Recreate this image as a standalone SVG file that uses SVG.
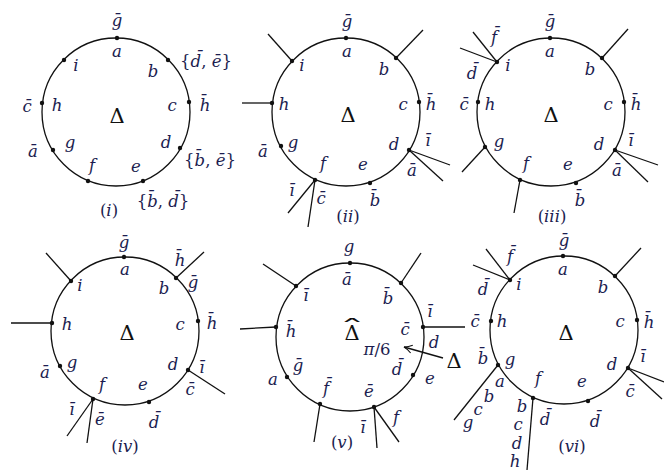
<svg xmlns="http://www.w3.org/2000/svg" width="664" height="470" viewBox="0 0 664 470">
<defs>
<style>
.ring{fill:none;stroke:#111;stroke-width:1.3}
.e{stroke:#111;stroke-width:1.3;fill:none}
.n{fill:#111}
text{font-family:"DejaVu Serif","Liberation Serif",serif;font-style:italic;font-size:16.5px;fill:#1c1d50;text-anchor:middle}
.up{font-style:normal}
.D{font-style:normal;font-size:21px;fill:#111}
</style>
<marker id="ah" markerWidth="12" markerHeight="10" refX="10" refY="5" orient="auto" markerUnits="userSpaceOnUse">
<path d="M2,1 Q6,4 10,5 Q6,6 2,9" fill="none" stroke="#111" stroke-width="1.1"/>
</marker>
</defs>
<rect width="664" height="470" fill="#fff"/>

<!-- Panel (i) -->
<g id="panel-i">
<circle class="ring" cx="116" cy="112" r="74"/>
<g id="i-nodes" class="n">
<circle cx="117" cy="38" r="2.2"/><circle cx="168" cy="60" r="2.2"/><circle cx="189" cy="102" r="2.2"/>
<circle cx="180" cy="148" r="2.2"/><circle cx="143" cy="181" r="2.2"/><circle cx="88" cy="181" r="2.2"/>
<circle cx="53" cy="150" r="2.2"/><circle cx="42" cy="103" r="2.2"/><circle cx="64" cy="60" r="2.2"/>
</g>
<g id="i-labels">
<text x="117" y="26">ḡ</text><text x="117" y="57">a</text>
<text x="206" y="67"><tspan class="up">{</tspan>d̄<tspan class="up">, </tspan>ē<tspan class="up">}</tspan></text>
<text x="153" y="77">b</text><text x="76" y="71">i</text>
<text x="27" y="112">c̄</text><text x="57" y="111">h</text><text x="172" y="111">c</text><text x="205" y="111">h̄</text>
<text class="D" x="117" y="123">Δ</text>
<text x="166" y="148">d</text>
<text x="210" y="166"><tspan class="up">{</tspan>b̄<tspan class="up">, </tspan>ē<tspan class="up">}</tspan></text>
<text x="33" y="157">ā</text><text x="70" y="148">g</text><text x="92" y="171">f</text><text x="136" y="172">e</text>
<text x="163" y="207"><tspan class="up">{</tspan>b̄<tspan class="up">, </tspan>d̄<tspan class="up">}</tspan></text>
<text x="109" y="216"><tspan class="up">(</tspan>i<tspan class="up">)</tspan></text>
</g>
</g>

<!-- Panel (ii) -->
<g id="panel-ii">
<circle class="ring" cx="346" cy="112" r="74"/>
<g id="ii-connectors" class="e">
<line x1="292" y1="61" x2="268" y2="34"/><line x1="396" y1="58" x2="423" y2="30"/>
<line x1="272" y1="103" x2="242" y2="103"/>
<line x1="409" y1="150" x2="450" y2="165"/><line x1="409" y1="150" x2="443" y2="181"/>
<line x1="315" y1="180" x2="288" y2="213"/><line x1="315" y1="180" x2="308" y2="227"/>
</g>
<g id="ii-nodes" class="n">
<circle cx="346" cy="38" r="2.2"/><circle cx="396" cy="58" r="2.2"/><circle cx="419" cy="102" r="2.2"/>
<circle cx="409" cy="150" r="2.2"/><circle cx="370" cy="183" r="2.2"/><circle cx="315" cy="180" r="2.2"/>
<circle cx="281" cy="146" r="2.2"/><circle cx="272" cy="103" r="2.2"/><circle cx="292" cy="61" r="2.2"/>
</g>
<g id="ii-labels">
<text x="347" y="27">ḡ</text><text x="347" y="57">a</text><text x="302" y="71">i</text><text x="384" y="75">b</text>
<text x="284" y="110">h</text><text x="403" y="110">c</text><text x="431" y="110">h̄</text>
<text class="D" x="348" y="122">Δ</text>
<text x="428" y="146">ī</text><text x="394" y="150">d</text><text x="412" y="176">ā</text>
<text x="263" y="157">ā</text><text x="293" y="148">g</text><text x="323" y="169">f</text><text x="363" y="170">e</text>
<text x="292" y="196">ī</text><text x="321" y="204">c̄</text><text x="375" y="206">b̄</text>
<text x="348" y="222"><tspan class="up">(</tspan>ii<tspan class="up">)</tspan></text>
</g>
</g>

<!-- Panel (iii) -->
<g id="panel-iii">
<circle class="ring" cx="551" cy="112" r="74"/>
<g id="iii-connectors" class="e">
<line x1="497" y1="62" x2="473" y2="32"/><line x1="497" y1="62" x2="460" y2="48"/>
<line x1="602" y1="58" x2="628" y2="29"/>
<line x1="485" y1="147" x2="462" y2="172"/>
<line x1="615" y1="150" x2="658" y2="165"/><line x1="615" y1="150" x2="648" y2="182"/>
<line x1="520" y1="180" x2="514" y2="213"/>
</g>
<g id="iii-nodes" class="n">
<circle cx="550" cy="38" r="2.2"/><circle cx="602" cy="58" r="2.2"/><circle cx="624" cy="102" r="2.2"/>
<circle cx="615" cy="150" r="2.2"/><circle cx="576" cy="183" r="2.2"/><circle cx="520" cy="180" r="2.2"/>
<circle cx="485" cy="147" r="2.2"/><circle cx="478" cy="102" r="2.2"/><circle cx="497" cy="62" r="2.2"/>
</g>
<g id="iii-labels">
<text x="550" y="27">ḡ</text><text x="550" y="57">a</text><text x="494" y="43">f̄</text><text x="472" y="79">d̄</text>
<text x="508" y="71">i</text><text x="590" y="75">b</text>
<text x="464" y="110">c̄</text><text x="490" y="110">h</text><text x="608" y="110">c</text><text x="636" y="110">h̄</text>
<text class="D" x="551" y="122">Δ</text>
<text x="499" y="147">g</text><text x="599" y="150">d</text><text x="631" y="146">ī</text><text x="617" y="176">ā</text>
<text x="526" y="169">f</text><text x="568" y="170">e</text><text x="580" y="206">b̄</text>
<text x="552" y="222"><tspan class="up">(</tspan>iii<tspan class="up">)</tspan></text>
</g>
</g>

<!-- Panel (iv) -->
<g id="panel-iv">
<circle class="ring" cx="125" cy="331" r="74"/>
<g id="iv-connectors" class="e">
<line x1="71" y1="281" x2="46" y2="253"/><line x1="176" y1="278" x2="204" y2="252"/>
<line x1="52" y1="323" x2="11" y2="323"/>
<line x1="188" y1="370" x2="225" y2="394"/>
<line x1="93" y1="399" x2="67" y2="436"/><line x1="93" y1="399" x2="87" y2="443"/>
</g>
<g id="iv-nodes" class="n">
<circle cx="124" cy="257" r="2.2"/><circle cx="176" cy="278" r="2.2"/><circle cx="198" cy="321" r="2.2"/>
<circle cx="188" cy="370" r="2.2"/><circle cx="149" cy="402" r="2.2"/><circle cx="93" cy="399" r="2.2"/>
<circle cx="60" cy="366" r="2.2"/><circle cx="52" cy="323" r="2.2"/><circle cx="71" cy="281" r="2.2"/>
</g>
<g id="iv-labels">
<text x="124" y="248">ḡ</text><text x="125" y="275">a</text><text x="180" y="266">h̄</text>
<text x="80" y="291">i</text><text x="164" y="294">b</text><text x="193" y="288">ḡ</text>
<text x="67" y="330">h</text><text x="180" y="330">c</text><text x="212" y="329">h̄</text>
<text class="D" x="127" y="340">Δ</text>
<text x="45" y="378">ā</text><text x="72" y="368">g</text><text x="173" y="370">d</text><text x="202" y="373">ī</text>
<text x="190" y="395">c̄</text><text x="102" y="390">f</text><text x="143" y="390">e</text>
<text x="72" y="415">ī</text><text x="100" y="425">ē</text><text x="154" y="428">d̄</text>
<text x="125" y="452"><tspan class="up">(</tspan>iv<tspan class="up">)</tspan></text>
</g>
</g>

<!-- Panel (v) -->
<g id="panel-v">
<circle class="ring" cx="350" cy="337" r="74"/>
<g id="v-connectors" class="e">
<line x1="296" y1="286" x2="263" y2="264"/><line x1="401" y1="283" x2="421" y2="253"/>
<line x1="276" y1="327" x2="240" y2="329"/><line x1="423" y1="327" x2="465" y2="327"/>
<line x1="320" y1="404" x2="314" y2="442"/>
<line x1="374" y1="407" x2="377" y2="448"/><line x1="374" y1="407" x2="399" y2="442"/>
<line x1="443" y1="358" x2="404" y2="347" marker-end="url(#ah)"/>
</g>
<g id="v-nodes" class="n">
<circle cx="350" cy="263" r="2.2"/><circle cx="296" cy="286" r="2.2"/><circle cx="401" cy="283" r="2.2"/>
<circle cx="276" cy="327" r="2.2"/><circle cx="423" cy="327" r="2.2"/><circle cx="287" cy="377" r="2.2"/>
<circle cx="413" cy="375" r="2.2"/><circle cx="320" cy="404" r="2.2"/><circle cx="374" cy="407" r="2.2"/>
</g>
<g id="v-labels">
<text x="349" y="252">g</text><text x="347" y="285">ā</text><text x="306" y="301">ī</text><text x="388" y="304">b̄</text>
<text x="430" y="317">ī</text><text x="291" y="337">h̄</text>
<text class="D" x="352" y="340">Δ</text>
<text class="D" transform="translate(352,335) scale(2.4,1)" x="0" y="0">ˆ</text>
<text x="405" y="335">c̄</text><text x="434" y="348">d</text>
<text x="377" y="355">π<tspan class="up">/6</tspan></text>
<text x="298" y="371">ḡ</text><text x="397" y="375">d̄</text><text x="273" y="385">a</text><text x="430" y="384">e</text>
<text x="326" y="394">f̄</text><text x="369" y="397">ē</text><text x="363" y="433">ī</text><text x="396" y="423">f</text>
<text x="342" y="448"><tspan class="up">(</tspan>v<tspan class="up">)</tspan></text>
<text class="D" x="454" y="368">Δ</text>
</g>
</g>

<!-- Panel (vi) -->
<g id="panel-vi">
<circle class="ring" cx="564" cy="330" r="74"/>
<g id="vi-connectors" class="e">
<line x1="510" y1="280" x2="486" y2="249"/><line x1="510" y1="280" x2="473" y2="265"/>
<line x1="615" y1="276" x2="641" y2="248"/>
<line x1="498" y1="365" x2="454" y2="420"/>
<line x1="628" y1="368" x2="664" y2="382"/><line x1="628" y1="368" x2="662" y2="399"/>
<line x1="533" y1="398" x2="527" y2="470"/>
</g>
<g id="vi-nodes" class="n">
<circle cx="563" cy="256" r="2.2"/><circle cx="615" cy="276" r="2.2"/><circle cx="637" cy="320" r="2.2"/>
<circle cx="628" cy="368" r="2.2"/><circle cx="588" cy="401" r="2.2"/><circle cx="533" cy="398" r="2.2"/>
<circle cx="498" cy="365" r="2.2"/><circle cx="491" cy="321" r="2.2"/><circle cx="510" cy="280" r="2.2"/>
</g>
<g id="vi-labels">
<text x="564" y="246">ḡ</text><text x="510" y="262">f̄</text><text x="563" y="275">a</text>
<text x="483" y="295">d̄</text><text x="519" y="290">i</text><text x="603" y="293">b</text>
<text x="475" y="327">c̄</text><text x="502" y="327">h</text><text x="620" y="327">c</text><text x="649" y="328">h̄</text>
<text class="D" x="566" y="340">Δ</text>
<text x="483" y="364">b̄</text><text x="510" y="365">g</text><text x="612" y="370">d</text><text x="643" y="362">ī</text>
<text x="500" y="387">a</text><text x="489" y="402">b</text><text x="478" y="415">c</text><text x="468" y="428">g</text>
<text x="538" y="384">f</text><text x="582" y="387">e</text><text x="630" y="397">c̄</text>
<text x="522" y="412">b</text><text x="518" y="430">c</text><text x="517" y="449">d</text><text x="515" y="467">h</text>
<text x="545" y="425">d̄</text><text x="595" y="427">d̄</text>
<text x="572" y="452"><tspan class="up">(</tspan>vi<tspan class="up">)</tspan></text>
</g>
</g>
</svg>
